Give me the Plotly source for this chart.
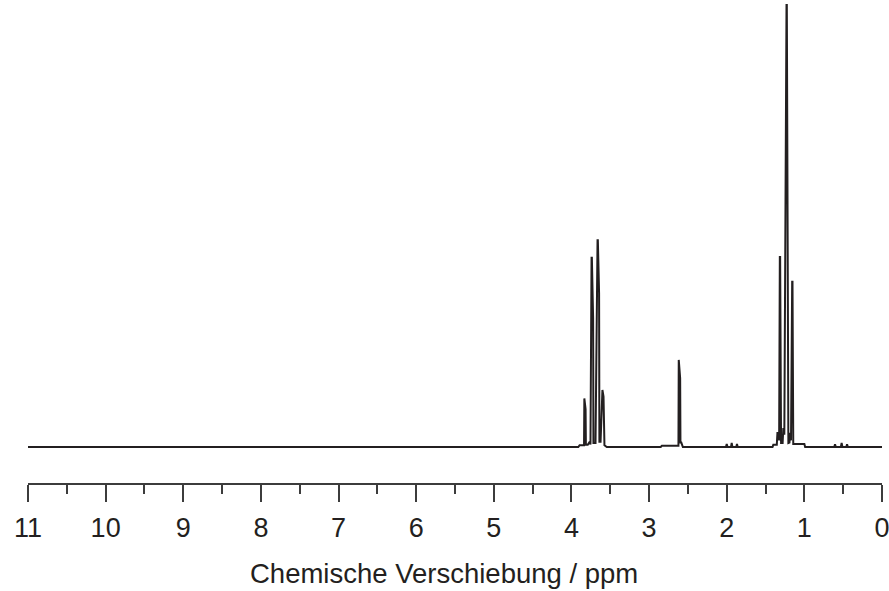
import plotly.graph_objects as go

# Spectrum points (chemical shift in ppm, relative intensity)
ppm = [11.00, 3.912, 3.895, 3.838, 3.834, 3.818, 3.814, 3.790, 3.765, 3.755,
       3.741, 3.737, 3.721, 3.717, 3.705, 3.690, 3.664, 3.660, 3.644, 3.640,
       3.625, 3.605, 3.601, 3.587, 3.583, 3.575,
       3.545, 2.850, 2.835, 2.622, 2.618, 2.600, 2.596, 2.585, 2.565,
       2.010, 2.000, 1.990, 1.945, 1.936, 1.927, 1.877, 1.868, 1.859,
       1.410, 1.400, 1.355, 1.347, 1.335, 1.325, 1.316, 1.312, 1.300, 1.280,
       1.271, 1.258, 1.230, 1.226, 1.206, 1.192, 1.185, 1.172, 1.157, 1.153,
       1.143, 1.000, 0.990, 0.615, 0.605, 0.595, 0.530, 0.520, 0.510,
       0.460, 0.450, 0.440, 0.000]
intensity = [0.0, 0.0, 0.4, 0.4, 11.0, 8.6, 0.5, 0.5, 1.2, 0.6,
             42.8, 42.8, 29.2, 0.9, 0.9, 0.9, 46.8, 46.8, 34.8, 1.2,
             1.2, 12.9, 12.9, 11.4, 0.4, 0.4,
             0.0, 0.0, 0.3, 0.3, 19.7, 15.6, 1.0, 1.0, 0.0,
             0.0, 0.7, 0.0, 0.0, 0.9, 0.0, 0.0, 0.7, 0.0,
             0.0, 0.5, 0.5, 3.2, 3.2, 1.5, 43.0, 43.0, 0.9, 0.9,
             4.3, 2.8, 100.0, 100.0, 0.9, 1.0, 3.2, 1.5, 37.4, 37.4,
             0.7, 0.7, 0.0, 0.0, 0.6, 0.0, 0.0, 0.9, 0.0,
             0.0, 0.6, 0.0, 0.0]

tick_vals = [11, 10, 9, 8, 7, 6, 5, 4, 3, 2, 1, 0]
tick_text = [str(v) for v in tick_vals]
x_title = "Chemische Verschiebung / ppm"

FONT = "Liberation Sans, Arial, Helvetica, sans-serif"
INK = "#231f20"

fig = go.Figure()
fig.add_trace(go.Scatter(x=ppm, y=intensity, mode="lines",
                         line=dict(color=INK, width=2), hoverinfo="skip",
                         showlegend=False))

fig.update_layout(
    width=889, height=591,
    margin=dict(l=28, r=7, t=4, b=108, autoexpand=False),
    paper_bgcolor="white", plot_bgcolor="white",
    font=dict(family=FONT, color=INK),
    showlegend=False,
)
fig.update_xaxes(
    range=[11, 0], showgrid=False, zeroline=False, automargin=False,
    showline=True, linecolor="#3c3c3c", linewidth=1.5,
    ticks="outside", ticklen=17, tickwidth=1.5, tickcolor="#3c3c3c",
    tickvals=tick_vals, ticktext=tick_text,
    tickfont=dict(family=FONT, size=27, color=INK),
    ticklabelstandoff=3, ticklabeloverflow="allow",
    minor=dict(dtick=0.5, ticks="outside", ticklen=9, tickwidth=1.5,
               tickcolor="#3c3c3c", showgrid=False),
)
fig.update_yaxes(range=[-8.14, 100.23], visible=False, showgrid=False,
                 zeroline=False, automargin=False)

fig.add_annotation(text=x_title, xref="paper", yref="paper",
                   x=(444 - 28) / 854, y=(483 - 573) / 479,
                   xanchor="center", yanchor="middle", showarrow=False,
                   font=dict(family=FONT, size=27.5, color=INK))

fig.write_html("out.html", config={"displayModeBar": False},
               post_script="document.body.style.margin='0';"
                           "document.body.style.overflow='hidden';")
